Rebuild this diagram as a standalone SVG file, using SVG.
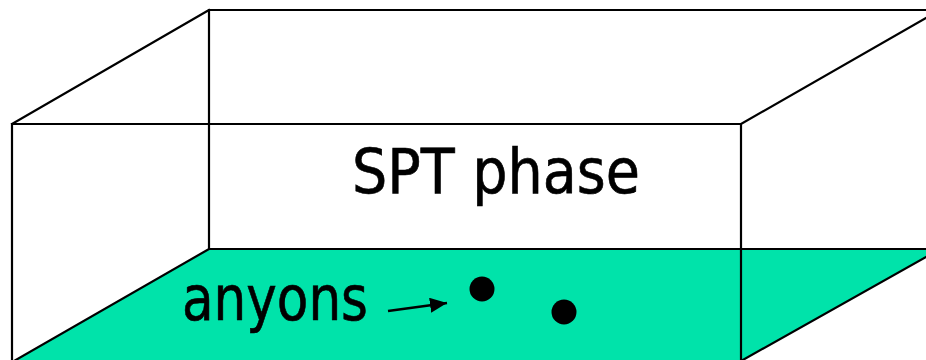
<svg xmlns="http://www.w3.org/2000/svg" width="926" height="360" viewBox="0 0 926 360">
  <style>
    .edge { fill: none; stroke: #000; stroke-width: 2.2; stroke-linecap: square; }
    .lbl { font-family: "DejaVu Sans Condensed", "DejaVu Sans", Tahoma, sans-serif; font-stretch: condensed; font-size: 62px; fill: #000; stroke: #000; stroke-width: 0.6; }
    .dot { fill: #000; }
  </style>
  <defs>
    <marker id="ah" viewBox="0 0 17 15" refX="17" refY="7.5" markerWidth="17" markerHeight="15" markerUnits="userSpaceOnUse" orient="auto">
      <path d="M0,0 L17,7.5 L0,15 Z" fill="#000"/>
    </marker>
  </defs>
  <rect width="926" height="360" fill="#fff"/>
  <g id="box">
    <polygon points="209,249 926,249 926,257 741,361 14,361" fill="#00E3AA"/>
    <path class="edge" d="M12,124 H741 V360 M12,124 V360 M209,249 V10 H926 M209,249 H926 M12,124 L209,10 M741,124 L926,18 M209,249 L14,361 M926,257 L741,361"/>
  </g>
  <g id="spt-label">
    <text class="lbl" x="352" y="193" textLength="288" lengthAdjust="spacingAndGlyphs">SPT phase</text>
  </g>
  <g id="anyons-label">
    <text class="lbl" x="182" y="320" textLength="186" lengthAdjust="spacingAndGlyphs">anyons</text>
  </g>
  <g id="anyon1"><circle class="dot" cx="482" cy="289" r="12.5"/></g>
  <g id="anyon2"><circle class="dot" cx="564" cy="312" r="12.5"/></g>
  <g id="connectors">
    <line x1="388" y1="311" x2="447" y2="303" stroke="#000" stroke-width="2.5" marker-end="url(#ah)"/>
  </g>
</svg>
